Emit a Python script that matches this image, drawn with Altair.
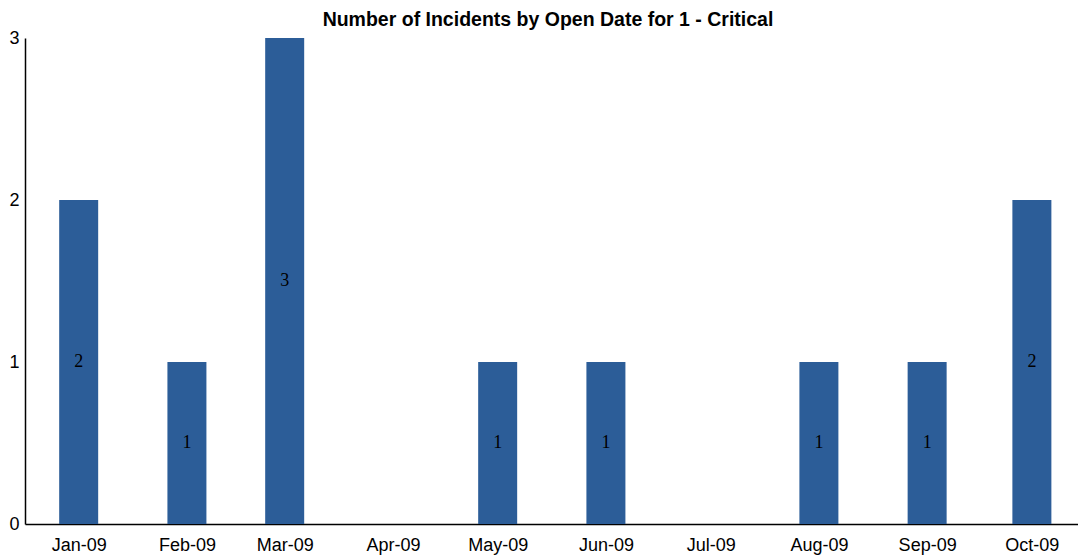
import altair as alt
import pandas as pd

months = ["2009-01-01", "2009-02-01", "2009-03-01", "2009-04-01", "2009-05-01",
          "2009-06-01", "2009-07-01", "2009-08-01", "2009-09-01", "2009-10-01"]
counts = [2, 1, 3, 0, 1, 1, 0, 1, 1, 2]
y_ticks = [0, 1, 2, 3]
title_text = "Number of Incidents by Open Date for 1 - Critical"

df = pd.DataFrame({"month": months, "count": counts})

x_scale = alt.Scale(domain=[alt.DateTime(year=2008, month=12, date=16, hours=15, utc=True),
                            alt.DateTime(year=2009, month=10, date=14, hours=5, utc=True)],
                    padding=0)
y_scale = alt.Scale(domain=[0, 3], nice=False)

base = alt.Chart(df).transform_filter(alt.datum["count"] > 0)

bars = base.mark_bar(size=39, color="#2c5d98").encode(
    x=alt.X("month:T", scale=x_scale,
            axis=alt.Axis(title=None, format="%b-%y", tickCount={"interval": "month", "step": 1},
                          ticks=False, grid=False, domainColor="#000000", domainWidth=1.5,
                          labelFont="Liberation Sans", labelFontSize=18, labelColor="#000000",
                          labelPadding=12, labelFlush=False, labelOverlap=False)),
    y=alt.Y("count:Q", scale=y_scale,
            axis=alt.Axis(title=None, values=y_ticks, format="d", ticks=False, grid=False,
                          domainColor="#000000", domainWidth=1.5,
                          labelFont="Liberation Sans", labelFontSize=18, labelColor="#000000",
                          labelPadding=6)),
)

labels = base.transform_calculate(mid="datum.count / 2").mark_text(
    font="Liberation Serif", fontSize=18, color="#000000", baseline="middle", align="center"
).encode(
    x=alt.X("month:T", scale=x_scale),
    y=alt.Y("mid:Q", scale=y_scale),
    text=alt.Text("count:Q", format="d"),
)

chart = (bars + labels).properties(
    width=1053, height=486,
    autosize=alt.AutoSizeParams(type="none"),
    padding={"left": 17, "top": 30, "right": 0, "bottom": 36},
    title=alt.TitleParams(title_text, font="Liberation Sans", fontSize=19.5, fontWeight="bold",
                          color="#000000", anchor="middle", dx=-3.5, offset=-1),
).configure_view(stroke=None)

chart.save("out.html", embed_options={"renderer": "svg", "actions": False})
